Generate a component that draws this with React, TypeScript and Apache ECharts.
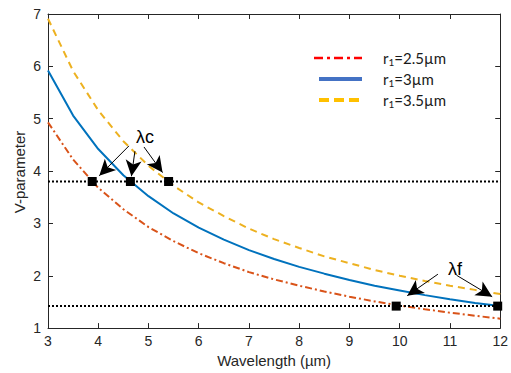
import React, { useEffect, useRef } from "react";
import * as echarts from "echarts";

// Wavelength samples (µm)
const wavelength = [3, 3.5, 4, 4.5, 5, 5.5, 6, 6.5, 7, 7.5, 8, 8.5, 9, 9.5, 10, 10.5, 11, 11.5, 12];

// V-parameter for each core radius
const vR25 = [4.93, 4.22, 3.68, 3.27, 2.93, 2.66, 2.43, 2.24, 2.07, 1.93, 1.81, 1.70, 1.60, 1.51, 1.43, 1.36, 1.295, 1.236, 1.18];
const vR30 = [5.92, 5.06, 4.42, 3.92, 3.52, 3.19, 2.92, 2.69, 2.49, 2.32, 2.17, 2.04, 1.92, 1.81, 1.72, 1.63, 1.55, 1.48, 1.42];
const vR35 = [6.91, 5.91, 5.16, 4.57, 4.10, 3.72, 3.40, 3.14, 2.90, 2.70, 2.53, 2.37, 2.24, 2.11, 2.00, 1.90, 1.81, 1.73, 1.65];

// Horizontal reference levels
const vCutoff = 3.8;
const vLower = 1.42;

// Marked wavelengths on each level
const lambdaC = [3.88, 4.64, 5.4];
const lambdaF = [9.93, 11.95];

// Annotation arrows: [tail, head] in data coordinates
const arrowsC = [
  [[4.61, 4.48], [4.02, 3.91]],
  [[4.73, 4.38], [4.66, 3.9]],
  [[4.91, 4.46], [5.28, 3.97]],
];
const arrowsF = [
  [[10.76, 2.03], [10.15, 1.62]],
  [[11.13, 2.01], [11.84, 1.6]],
];

const xTicks = [3, 12];
const yTicks = [1, 7];

const legendItems = [
  { label: "2.5µm", color: "#FF0000", width: 2.5, dash: [9, 4, 3, 4] },
  { label: "3µm", color: "#4472C4", width: 4, dash: null },
  { label: "3.5µm", color: "#FFC000", width: 4, dash: [10, 5] },
];

const AXIS_COLOR = "#262626";
const FONT = "'Liberation Sans', Arial, sans-serif";

export default function App() {
  const ref = useRef<HTMLDivElement>(null);

  useEffect(() => {
    if (!ref.current) return;
    const chart = echarts.init(ref.current, undefined, { renderer: "svg" });

    const pairs = (ys: number[]) => wavelength.map((x, i) => [x, ys[i]]);
    const arrowData = (list: number[][][]) =>
      list.map(([a, b]) => [{ coord: a }, { coord: b }]);

    const legendGraphics: any[] = [];
    legendItems.forEach((item, i) => {
      const y = 58 + i * 21;
      legendGraphics.push({
        type: "line",
        shape: { x1: i === 0 ? 314 : 319, y1: y, x2: 362, y2: y },
        style: {
          stroke: item.color,
          lineWidth: item.width,
          lineDash: item.dash || undefined,
        },
        silent: true,
      });
      legendGraphics.push({
        type: "text",
        x: 383,
        y: y,
        style: {
          text: "r{s|1}{n|=" + item.label + "}",
          fill: "#1a1a1a",
          fontFamily: "Lato, 'Open Sans', sans-serif",
          fontSize: 15,
          verticalAlign: "middle",
          rich: {
            s: { fontSize: 10, fill: "#1a1a1a", fontFamily: "Lato, sans-serif", padding: [7, 0, 0, 0] },
            n: { fontSize: 15, fill: "#1a1a1a", fontFamily: "Lato, sans-serif" },
          },
        },
        silent: true,
      });
    });

    const axisCommon = {
      type: "value" as const,
      axisLine: { show: true, lineStyle: { color: AXIS_COLOR, width: 1 } },
      axisTick: { show: true, inside: true, length: 5, lineStyle: { color: AXIS_COLOR } },
      splitLine: { show: false },
    };

    chart.setOption({
      animation: false,
      grid: { left: 48, right: 5, top: 14, bottom: 43, containLabel: false },
      xAxis: [
        {
          ...axisCommon,
          min: xTicks[0],
          max: xTicks[1],
          interval: 1,
          name: "Wavelength (µm)",
          nameLocation: "middle",
          nameGap: 22,
          nameTextStyle: { color: AXIS_COLOR, fontSize: 15, fontFamily: FONT },
          axisLabel: { color: AXIS_COLOR, fontSize: 14, fontFamily: FONT, margin: 6 },
        },
        {
          ...axisCommon,
          position: "top",
          min: xTicks[0],
          max: xTicks[1],
          interval: 1,
          axisLabel: { show: false },
        },
      ],
      yAxis: [
        {
          ...axisCommon,
          min: yTicks[0],
          max: yTicks[1],
          interval: 1,
          axisLabel: { color: AXIS_COLOR, fontSize: 14, fontFamily: FONT, margin: 7 },
        },
        {
          ...axisCommon,
          position: "right",
          min: yTicks[0],
          max: yTicks[1],
          interval: 1,
          axisLabel: { show: false },
        },
      ],
      series: [
        {
          name: "r1=2.5µm",
          type: "line",
          data: pairs(vR25),
          showSymbol: false,
          symbol: "none",
          lineStyle: { color: "#D95319", width: 2, type: [7, 3, 2, 3] },
          z: 3,
        },
        {
          name: "r1=3µm",
          type: "line",
          data: pairs(vR30),
          showSymbol: false,
          symbol: "none",
          lineStyle: { color: "#0072BD", width: 2 },
          z: 3,
        },
        {
          name: "r1=3.5µm",
          type: "line",
          data: pairs(vR35),
          showSymbol: false,
          symbol: "none",
          lineStyle: { color: "#EDB120", width: 2, type: [7, 5] },
          z: 3,
        },
        {
          type: "line",
          data: [[xTicks[0], vCutoff], [xTicks[1], vCutoff]],
          symbol: "none",
          lineStyle: { color: "#000", width: 2, type: [2, 2] },
          z: 4,
        },
        {
          type: "line",
          data: [[xTicks[0], vLower], [xTicks[1], vLower]],
          symbol: "none",
          lineStyle: { color: "#000", width: 2, type: [2, 2] },
          z: 4,
        },
        {
          type: "scatter",
          data: [
            ...lambdaC.map((x) => [x, vCutoff]),
            ...lambdaF.map((x) => [x, vLower]),
          ],
          symbol: "rect",
          symbolSize: 9,
          itemStyle: { color: "#000", opacity: 1 },
          z: 5,
          markLine: {
            silent: true,
            symbol: ["none", "arrow"],
            symbolSize: [12, 16],
            label: { show: false },
            lineStyle: { color: "#000", width: 1, type: "solid", opacity: 1 },
            data: [...arrowData(arrowsC), ...arrowData(arrowsF)] as any,
          },
        },
      ],
      graphic: [
        {
          // y-axis title, rotated
          type: "text",
          x: 19,
          y: 172,
          rotation: Math.PI / 2,
          style: {
            text: "V-parameter",
            fill: AXIS_COLOR,
            fontFamily: FONT,
            fontSize: 15,
            align: "center",
            verticalAlign: "middle",
          },
        },
        {
          type: "text",
          x: 145,
          y: 137,
          style: {
            text: "λc",
            fill: "#000",
            fontFamily: FONT,
            fontSize: 18,
            align: "center",
            verticalAlign: "middle",
          },
        },
        {
          type: "text",
          x: 455,
          y: 269,
          style: {
            text: "λf",
            fill: "#000",
            fontFamily: FONT,
            fontSize: 18,
            align: "center",
            verticalAlign: "middle",
          },
        },
        ...legendGraphics,
      ],
    });

    return () => chart.dispose();
  }, []);

  return (
    <div
      ref={ref}
      style={{ position: "fixed", left: 0, top: 0, width: 511, height: 373, background: "#fff" }}
    />
  );
}
